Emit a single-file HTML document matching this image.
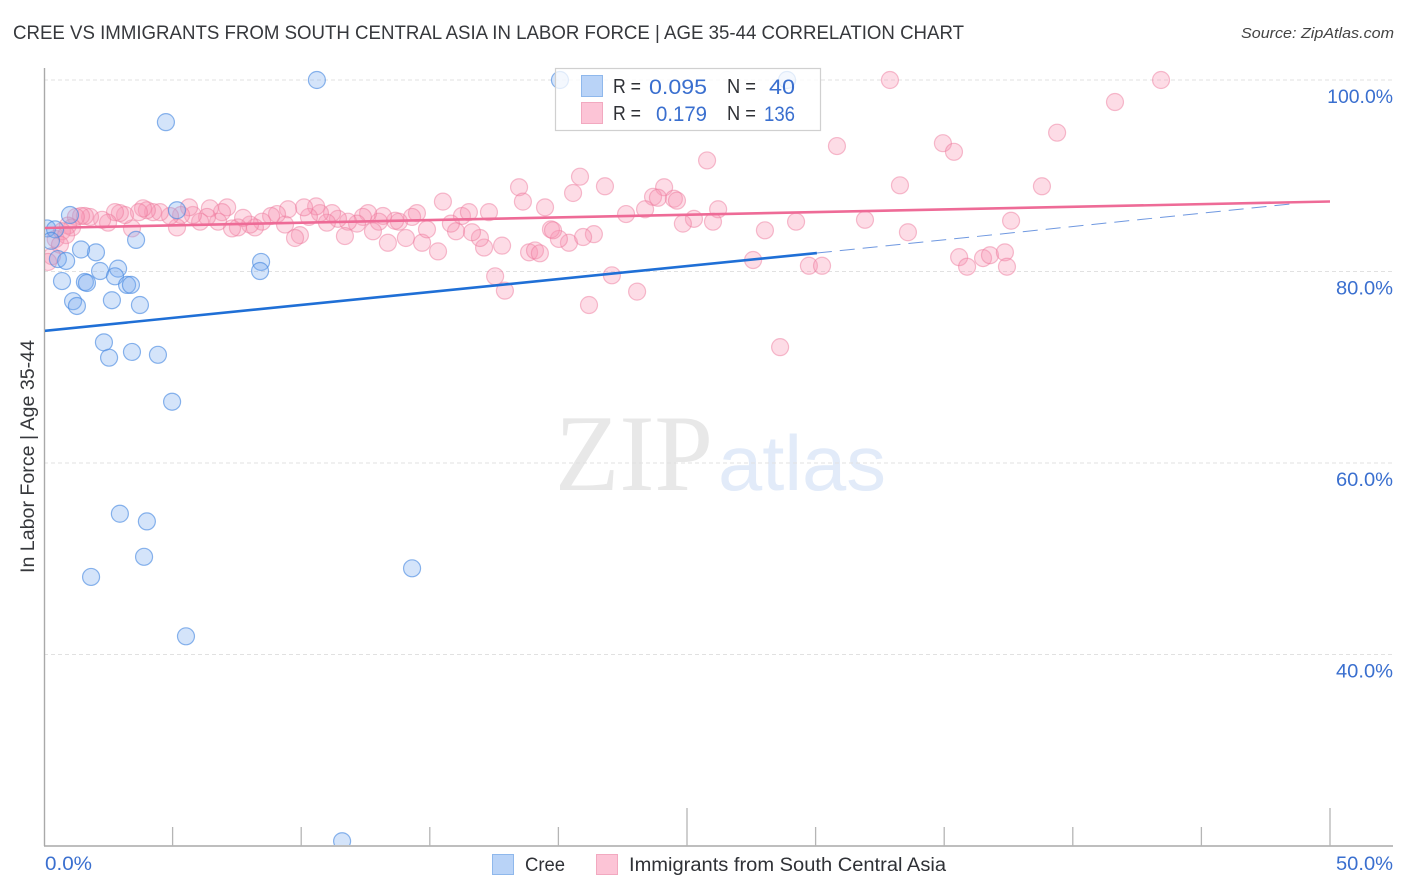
<!DOCTYPE html>
<html lang="en">
<head>
<meta charset="utf-8">
<title>Cree vs Immigrants from South Central Asia correlation chart</title>
<style>
html,body{margin:0;padding:0;background:#fff;}
svg{display:block;font-family:"Liberation Sans",sans-serif;}
</style>
</head>
<body>
<svg id="chart" xmlns="http://www.w3.org/2000/svg" width="1406" height="892" viewBox="0 0 1406 892">
  <defs>
    <clipPath id="plot-clip"><rect x="45" y="60" width="1360" height="785"/></clipPath>
  </defs>
  <text x="13" y="39" font-size="19" fill="#36383c" textLength="951" lengthAdjust="spacingAndGlyphs">CREE VS IMMIGRANTS FROM SOUTH CENTRAL ASIA IN LABOR FORCE | AGE 35-44 CORRELATION CHART</text>
  <text x="1241" y="38" font-size="15" font-style="italic" fill="#444" textLength="153" lengthAdjust="spacingAndGlyphs">Source: ZipAtlas.com</text>
  <g>
    <text x="555" y="490" font-family="'Liberation Serif',serif" font-size="109" fill="#e8e8e8" textLength="158" lengthAdjust="spacingAndGlyphs">ZIP</text>
    <text x="718" y="490" font-size="78" fill="#e2ebf9" textLength="168" lengthAdjust="spacingAndGlyphs">atlas</text>
  </g>
  <g id="grid"></g>
  <g id="axes"></g>
  <g clip-path="url(#plot-clip)">
    <g id="pts-imm"></g>
    <g id="pts-cree"></g>
    <g id="trends"></g>
  </g>
  <text transform="translate(34,573) rotate(-90)" font-size="19" fill="#36383c" textLength="233" lengthAdjust="spacingAndGlyphs">In Labor Force | Age 35-44</text>
  <g id="tick-labels"></g>

  <g>
    <rect x="555.5" y="68.5" width="265" height="62" fill="#fff" fill-opacity="0.75" stroke="#d0d0d0" stroke-width="1.2"/>
    <rect x="581.5" y="75.5" width="21" height="21" fill="#b9d3f7" stroke="#8fb8ec" stroke-width="1"/>
    <rect x="581.5" y="102.5" width="21" height="21" fill="#fcc4d6" stroke="#f2a9c0" stroke-width="1"/>
    <g font-size="20" fill="#2f3136">
      <text x="613" y="93" textLength="28" lengthAdjust="spacingAndGlyphs">R =</text>
      <text x="727" y="93" textLength="29" lengthAdjust="spacingAndGlyphs">N =</text>
      <text x="613" y="120" textLength="28" lengthAdjust="spacingAndGlyphs">R =</text>
      <text x="727" y="120" textLength="29" lengthAdjust="spacingAndGlyphs">N =</text>
    </g>
    <g font-size="21" fill="#3a6fcf">
      <text x="649" y="94" textLength="58" lengthAdjust="spacingAndGlyphs">0.095</text>
      <text x="769" y="94" textLength="26" lengthAdjust="spacingAndGlyphs">40</text>
      <text x="656" y="121" textLength="51" lengthAdjust="spacingAndGlyphs">0.179</text>
      <text x="764" y="121" textLength="31" lengthAdjust="spacingAndGlyphs">136</text>
    </g>
  </g>

  <g>
    <rect x="492.5" y="854.5" width="21" height="20" fill="#b9d3f7" stroke="#8fb8ec" stroke-width="1"/>
    <text x="525" y="871" font-size="19" fill="#2f3136" textLength="40" lengthAdjust="spacingAndGlyphs">Cree</text>
    <rect x="596.5" y="854.5" width="21" height="20" fill="#fcc4d6" stroke="#f2a9c0" stroke-width="1"/>
    <text x="629" y="871" font-size="19" fill="#2f3136" textLength="317" lengthAdjust="spacingAndGlyphs">Immigrants from South Central Asia</text>
  </g>
</svg>
<script>
const yTickValues = [100, 80, 60, 40];
const yTickLabels = ["100.0%", "80.0%", "60.0%", "40.0%"];
const xTickValues = [5, 10, 15, 20, 25, 30, 35, 40, 45, 50];
const xMajorTicks = [25, 50];
const xEndLabels = ["0.0%", "50.0%"];

const creeX = [10.61,20.06,28.89,4.74,5.17,1.01,0.12,0.43,0.27,3.58,2.02,1.44,0.54,0.86,8.44,8.40,2.18,2.88,2.76,1.59,1.67,0.70,3.23,3.38,2.64,1.13,1.28,3.73,2.33,3.42,2.53,4.43,4.98,2.95,4.00,3.89,1.83,14.31,5.52,11.59];
const creeY = [100,100,100,95.6,86.4,85.9,84.5,84.4,83.2,83.3,82.0,82.3,81.3,81.1,81.0,80.05,80.05,80.3,79.5,78.9,78.8,79.0,78.6,78.6,77.0,76.9,76.4,76.5,72.6,71.6,71.0,71.3,66.4,54.7,53.9,50.2,48.1,49.0,41.9,20.5];

const immX = [32.89,43.43,41.64,39.39,34.95,35.38,30.83,25.78,20.84,33.28,38.80,18.47,21.81,20.57,24.11,15.51,18.62,19.48,23.68,23.87,24.49,24.61,26.21,23.37,22.63,16.25,16.52,17.30,25.27,24.84,26.01,28.03,29.24,31.92,33.59,37.60,21.38,20.41,20.96,20.02,19.71,19.79,17.81,17.11,16.95,16.64,16.02,15.82,15.32,14.70,14.07,13.37,14.89,14.50,14.31,13.80,13.65,13.18,13.02,12.79,12.60,12.40,12.17,11.82,11.70,11.43,11.20,11.00,10.73,10.58,10.30,10.11,9.95,9.76,9.49,9.37,9.06,8.83,8.48,8.20,8.01,7.74,7.54,7.31,7.12,6.92,6.77,6.45,6.34,6.07,5.79,5.64,5.33,5.17,4.90,4.51,4.24,4.00,3.85,3.69,3.42,3.15,2.95,2.76,2.49,2.26,0.45,1.79,1.59,1.44,1.24,1.09,0.93,0.70,0.86,0.62,0.31,0.16,18.86,19.09,19.28,17.54,17.92,21.19,23.06,22.08,28.62,29.74,30.25,27.57,35.58,35.89,36.51,36.78,37.36,37.44];
const immY = [100,100,97.7,94.5,93.4,92.5,93.1,91.6,89.9,89.0,88.9,88.8,88.9,88.2,88.8,87.3,87.3,86.7,87.8,87.7,87.6,87.4,86.5,86.5,86.0,85.8,86.2,86.2,85.5,85.0,85.2,84.3,85.2,85.4,84.1,85.3,83.9,83.0,83.6,83.4,84.4,84.3,82.7,82.5,83.5,84.1,84.2,85.0,82.1,83.0,83.5,83.0,84.4,86.1,85.7,85.2,85.3,85.8,85.2,84.2,86.1,85.7,85.0,85.2,83.7,85.5,86.1,85.1,86.1,86.8,85.7,86.7,83.8,83.5,86.5,84.9,86.0,85.8,85.2,84.6,84.9,85.6,84.6,84.5,86.7,86.2,85.2,86.6,85.7,85.2,85.9,86.7,85.9,84.6,85.8,86.2,86.2,86.4,86.6,86.2,84.5,85.9,86.1,86.2,85.1,85.4,83.4,85.7,85.8,85.8,85.7,84.6,84.8,84.2,83.8,82.8,81.6,81.0,82.0,82.2,81.9,79.5,78.0,76.5,77.9,79.6,72.1,80.6,80.6,81.2,81.5,80.5,81.4,81.7,82.0,80.5];

const creeTrendX = [0, 30.05];
const creeTrendY = [73.8, 81.93];
const creeForecastX = [30.05, 48.64];
const creeForecastY = [81.93, 87.1];
const immTrendX = [0, 50];
const immTrendY = [84.54, 87.31];

const NS = "http://www.w3.org/2000/svg";
const sx = v => 44 + v * 25.72;
const sy = v => 80 + (100 - v) * 9.575;

function mk(parent, tag, attrs, text) {
  const el = document.createElementNS(NS, tag);
  for (const k in attrs) el.setAttribute(k, attrs[k]);
  if (text !== undefined) el.textContent = text;
  parent.appendChild(el);
  return el;
}

function labelWidth(label) {
  return label.length * 9.3 + (label.length > 5 ? 10 : 10.5);
}

const grid = document.getElementById("grid");
const axes = document.getElementById("axes");
const tickLabels = document.getElementById("tick-labels");

yTickValues.forEach((v, i) => {
  const g = mk(grid, "line", {x1: 44, x2: 1393, y1: sy(v), y2: sy(v), stroke: "#e1e1e1", "stroke-width": 1, "stroke-dasharray": "4 3"});
  
  
  const t = mk(tickLabels, "text", {x: 1393, y: sy(v) + 23, "font-size": 19, fill: "#3a6fcf", "text-anchor": "end", textLength: labelWidth(yTickLabels[i]), lengthAdjust: "spacingAndGlyphs"}, yTickLabels[i]);
  
  
});

const yAxis = mk(axes, "line", {x1: 44.5, x2: 44.5, y1: 68, y2: 846, stroke: "#a9a9a9", "stroke-width": 1.4});


const xAxis = mk(axes, "line", {x1: 44, x2: 1393, y1: 846, y2: 846, stroke: "#a9a9a9", "stroke-width": 1.4});



xTickValues.forEach(v => {
  const top = xMajorTicks.includes(v) ? 808 : 827;
  const t = mk(axes, "line", {x1: sx(v), x2: sx(v), y1: top, y2: 846, stroke: "#b5b5b5", "stroke-width": 1.3});
  
  
});

const xl0 = mk(tickLabels, "text", {x: 45, y: 870, "font-size": 19, fill: "#3a6fcf", textLength: 47, lengthAdjust: "spacingAndGlyphs"}, xEndLabels[0]);


const xl1 = mk(tickLabels, "text", {x: 1393, y: 870, "font-size": 19, fill: "#3a6fcf", "text-anchor": "end", textLength: 57, lengthAdjust: "spacingAndGlyphs"}, xEndLabels[1]);



const immGroup = document.getElementById("pts-imm");
immX.forEach((x, i) => {
  const c = mk(immGroup, "circle", {cx: sx(x), cy: sy(immY[i]), r: 8.5, fill: "rgba(248,150,180,0.33)", stroke: "rgba(236,120,155,0.48)", "stroke-width": 1.2});
  
  
});

const creeGroup = document.getElementById("pts-cree");
creeX.forEach((x, i) => {
  const c = mk(creeGroup, "circle", {cx: sx(x), cy: sy(creeY[i]), r: 8.5, fill: "rgba(120,170,240,0.32)", stroke: "rgba(70,135,225,0.62)", "stroke-width": 1.2});
  
  
});

const trends = document.getElementById("trends");
const lineForecast = mk(trends, "line", {x1: sx(creeForecastX[0]), y1: sy(creeForecastY[0]), x2: sx(creeForecastX[1]), y2: sy(creeForecastY[1]), stroke: "#6f98e0", "stroke-width": 1, "stroke-dasharray": "15 8"});


const lineImm = mk(trends, "line", {x1: sx(immTrendX[0]), y1: sy(immTrendY[0]), x2: sx(immTrendX[1]), y2: sy(immTrendY[1]), stroke: "#ee6b97", "stroke-width": 2.6});


const lineCree = mk(trends, "line", {x1: sx(creeTrendX[0]), y1: sy(creeTrendY[0]), x2: sx(creeTrendX[1]), y2: sy(creeTrendY[1]), stroke: "#1f6fd6", "stroke-width": 2.6});


</script>
</body>
</html>
